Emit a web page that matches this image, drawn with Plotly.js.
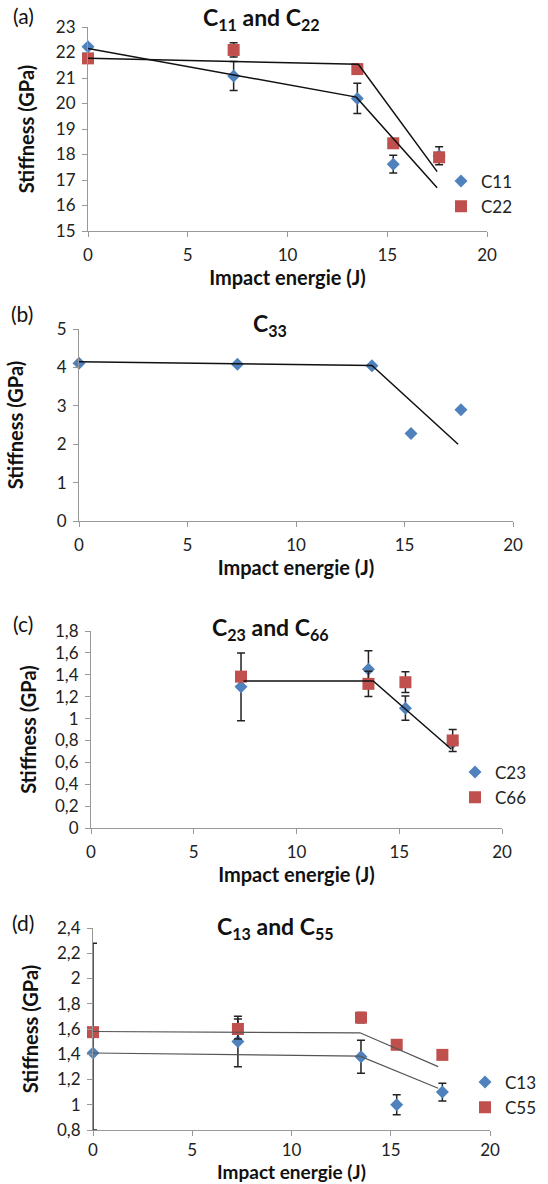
<!DOCTYPE html>
<html>
<head>
<meta charset="utf-8">
<script src="https://cdn.plot.ly/plotly-3.0.1.min.js"></script>
<style>
  html, body { margin: 0; padding: 0; background: #fff; }
  #chart { width: 548px; height: 1184px; }
</style>
</head>
<body>
<div id="chart"></div>
<script>
// ---------------- DATA ----------------
const energy = [0, 7.3, 13.5, 15.3, 17.6];

// (a) C11 and C22
const c11 = [22.23, 21.08, 20.2, 17.62, 17.95];
const c11Err = [0, 0.57, 0.59, 0.35, 0.35];
const c22 = [21.77, 22.1, 21.35, 18.44, 17.89];
const c22Err = [0, 0.28, 0, 0, 0];
const trendX_a = [0, 13.45, 17.5];
const trendC11 = [22.16, 20.25, 16.7];
const trendX_a2 = [0, 13.55, 17.5];
const trendC22 = [21.77, 21.54, 17.33];

// (b) C33
const c33 = [4.11, 4.08, 4.04, 2.28, 2.9];
const trendX_b = [0, 13.5, 17.47];
const trendC33 = [4.15, 4.05, 2.0];

// (c) C23 and C66
const energyC = [7.3, 13.5, 15.3, 17.6];
const c23 = [1.29, 1.45, 1.095, 0.78];
const c23Err = [0.31, 0.17, 0.11, 0];
const c66 = [1.383, 1.317, 1.332, 0.8];
const c66Err = [0, 0.115, 0.095, 0.1];
const trendX_c = [7.42, 13.73, 17.54];
const trendC2366 = [1.344, 1.344, 0.72];

// (d) C13 and C55
const c13 = [1.41, 1.5, 1.38, 1.0, 1.1];
const c13ErrPlus = [0.87, 0.2, 0.13, 0.08, 0.07];
const c13ErrMinus = [0.61, 0.2, 0.13, 0.08, 0.07];
const c55 = [1.575, 1.6, 1.69, 1.475, 1.395];
const c55Err = [0, 0.08, 0.04, 0, 0];
const trendX_d = [0, 13.45, 17.39];
const trendC55 = [1.58, 1.57, 1.302];
const trendC13 = [1.41, 1.385, 1.131];

// labels
const panelLabels = ['(a)', '(b)', '(c)', '(d)'];
const panelTitles = ['C<sub>11</sub> and C<sub>22</sub>', 'C<sub>33</sub>',
                     'C<sub>23</sub> and C<sub>66</sub>', 'C<sub>13</sub> and C<sub>55</sub>'];
const xTitle = 'Impact energie (J)';
const yTitle = 'Stiffness (GPa)';

// ---------------- STYLE ----------------
const W = 548, H = 1184;
const FONT = 'Lato, "Open Sans", sans-serif';
const BLUE = '#4F81BD', RED = '#C0504D';
const px = v => v / W;
const py = v => 1 - v / H;

function errBar(arr, minus) {
  const e = {type: 'data', array: arr, visible: true, color: '#222', thickness: 1.5, width: 4};
  if (minus) { e.symmetric = false; e.arrayminus = minus; }
  return e;
}
function diamonds(x, y, name, xa, ya, err, legend, show) {
  return {x, y, name, xaxis: xa, yaxis: ya, type: 'scatter', mode: 'markers',
    marker: {symbol: 'diamond', size: 10, color: BLUE}, error_y: err,
    cliponaxis: false, legend: legend, showlegend: show};
}
function squares(x, y, name, xa, ya, err, legend) {
  return {x, y, name, xaxis: xa, yaxis: ya, type: 'scatter', mode: 'markers',
    marker: {symbol: 'square', size: 12, color: RED}, error_y: err,
    cliponaxis: false, legend: legend, showlegend: true};
}
function trend(x, y, xa, ya, color, width) {
  return {x, y, xaxis: xa, yaxis: ya, type: 'scatter', mode: 'lines',
    line: {color: color || '#111', width: width || 1.5}, showlegend: false, hoverinfo: 'skip', cliponaxis: false};
}

const traces = [
  diamonds(energy, c11, 'C11', 'x', 'y', errBar(c11Err), 'legend', true),
  squares(energy, c22, 'C22', 'x', 'y', errBar(c22Err), 'legend'),
  trend(trendX_a, trendC11, 'x', 'y'),
  trend(trendX_a2, trendC22, 'x', 'y'),

  diamonds(energy, c33, 'C33', 'x2', 'y2', undefined, 'legend', false),
  trend(trendX_b, trendC33, 'x2', 'y2'),

  diamonds(energyC, c23, 'C23', 'x3', 'y3', errBar(c23Err), 'legend2', true),
  squares(energyC, c66, 'C66', 'x3', 'y3', errBar(c66Err), 'legend2'),
  trend(trendX_c, trendC2366, 'x3', 'y3'),

  diamonds(energy, c13, 'C13', 'x4', 'y4', errBar(c13ErrPlus, c13ErrMinus), 'legend3', true),
  squares(energy, c55, 'C55', 'x4', 'y4', errBar(c55Err), 'legend3'),
  trend(trendX_d, trendC55, 'x4', 'y4', '#555', 1.2),
  trend(trendX_d, trendC13, 'x4', 'y4', '#555', 1.2),
];

// panel boxes in pixels: [left, right, top, bottom]
const boxes = [[88, 487, 27, 231], [79, 513, 329, 521], [91, 502, 631, 828], [93, 490, 928, 1130]];
const yRanges = [[15, 23], [0, 5], [0, 1.8], [0.8, 2.4]];
const yDticks = [1, 1, 0.2, 0.2];
const yStandoff = [15, 27, 13, 13];
const xStandoff = [6, 6, 5, 0];
const xTickStandoff = [4, 4, 4, 0];
const xTitleSize = [20, 20, 20, 19];
const titlePos = [[261, 19], [270, 324], [270, 628], [275, 927]];
const labelPos = [[23, 15], [22, 313], [23, 623], [23, 922]];

const layout = {
  width: W, height: H,
  margin: {l: 0, r: 0, t: 0, b: 0},
  paper_bgcolor: '#fff', plot_bgcolor: 'rgba(0,0,0,0)',
  font: {family: FONT, color: '#222', size: 16},
  separators: ', ',
  showlegend: true,
  annotations: [],
};

boxes.forEach((b, i) => {
  const s = i === 0 ? '' : String(i + 1);
  layout['xaxis' + s] = {
    domain: [px(b[0]), px(b[1])], anchor: 'y' + s,
    range: [0, 20], dtick: 5, tick0: 0,
    showgrid: false, zeroline: false, showline: true, linecolor: '#999', linewidth: 1,
    ticks: 'outside', ticklen: 5, tickcolor: '#999', ticklabelstandoff: xTickStandoff[i],
    tickfont: {family: FONT, size: 17, color: '#222'},
    title: {text: '<b>' + xTitle + '</b>', font: {family: FONT, size: xTitleSize[i], color: '#111'}, standoff: xStandoff[i]},
    fixedrange: true,
  };
  layout['yaxis' + s] = {
    domain: [py(b[3]), py(b[2])], anchor: 'x' + s,
    range: yRanges[i], dtick: yDticks[i], tick0: 0,
    showgrid: false, zeroline: false, showline: true, linecolor: '#999', linewidth: 1,
    ticks: 'outside', ticklen: 5, tickcolor: '#999', ticklabelstandoff: 3,
    tickfont: {family: FONT, size: 17, color: '#222'},
    title: {text: '<b>' + yTitle + '</b>', font: {family: FONT, size: 20, color: '#111'}, standoff: yStandoff[i]},
    fixedrange: true,
  };
  layout.annotations.push({
    text: '<b>' + panelTitles[i] + '</b>', xref: 'paper', yref: 'paper',
    x: px(titlePos[i][0]), y: py(titlePos[i][1]), xanchor: 'center', yanchor: 'middle',
    showarrow: false, font: {family: FONT, size: 23, color: '#111'}
  });
  layout.annotations.push({
    text: panelLabels[i], xref: 'paper', yref: 'paper',
    x: px(labelPos[i][0]), y: py(labelPos[i][1]), xanchor: 'center', yanchor: 'middle',
    showarrow: false, font: {family: FONT, size: 21, color: '#111'}
  });
});

const legendBase = {
  bgcolor: 'rgba(0,0,0,0)', borderwidth: 0, xanchor: 'left', yanchor: 'middle',
  font: {family: FONT, size: 17, color: '#222'}, traceorder: 'normal',
  itemwidth: 30, tracegroupgap: 0
};
layout.legend = Object.assign({}, legendBase, {x: px(441), y: py(194)});
layout.legend2 = Object.assign({}, legendBase, {x: px(455), y: py(785)});
layout.legend3 = Object.assign({}, legendBase, {x: px(465), y: py(1095)});

Plotly.newPlot('chart', traces, layout, {displayModeBar: false, staticPlot: true});
</script>
</body>
</html>
